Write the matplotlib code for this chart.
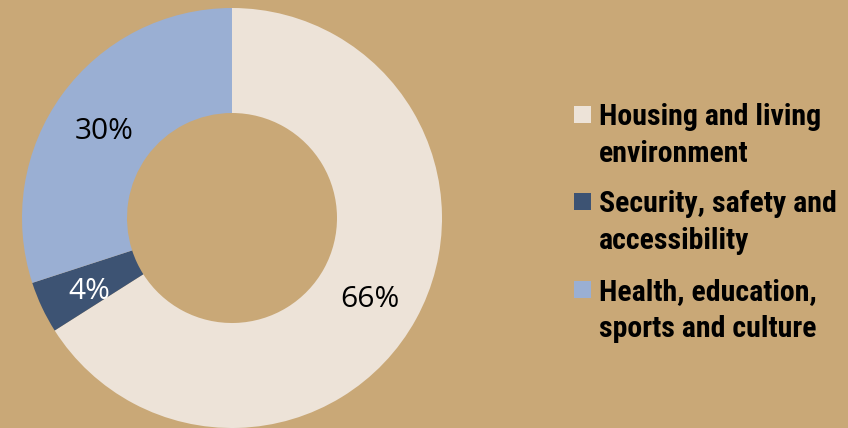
import matplotlib
matplotlib.use("Agg")
import matplotlib.pyplot as plt
from matplotlib.patches import Rectangle
from matplotlib.transforms import offset_copy

categories = ["Housing and living\nenvironment",
              "Security, safety and\naccessibility",
              "Health, education,\nsports and culture"]
values = [66, 4, 30]
colors = ["#EDE3D8", "#3D5373", "#9AAFD3"]
label_colors = ["black", "white", "black"]
bg = "#C9A877"

W, H = 848, 428
fig = plt.figure(figsize=(W / 100, H / 100), dpi=100, facecolor=bg)

ax = fig.add_axes([22 / W, 0 / H, 420 / W, 420 / H])
ax.set_facecolor(bg)
wedges, texts, autotexts = ax.pie(
    values, colors=colors, startangle=90, counterclock=False,
    autopct=lambda p: f"{p:.0f}%", pctdistance=0.75,
    wedgeprops=dict(width=0.5, linewidth=0),
    textprops=dict(fontsize=21.5, family=["Open Sans", "DejaVu Sans"]))
for t, c in zip(autotexts, label_colors):
    t.set_color(c)
    t.set_transform(offset_copy(ax.transData, fig=fig, x=0, y=-6, units="dots"))
ax.set_xlim(-1, 1)
ax.set_ylim(-1, 1)
ax.set_aspect("equal")
ax.axis("off")

def fx(x):
    return x / W

def fy(y):
    return 1 - y / H

first_baselines = [125, 212, 300]
line_gap = 37
sq = 17
for lab, col, b in zip(categories, colors, first_baselines):
    fig.add_artist(Rectangle((fx(574), fy(b - 2)), sq / W, sq / H,
                             transform=fig.transFigure, facecolor=col,
                             edgecolor="none"))
    for i, line in enumerate(lab.split("\n")):
        fig.text(fx(599), fy(b + i * line_gap), line, fontsize=21.5,
                 fontweight="bold",
                 family=["Roboto Condensed", "Archivo Narrow", "DejaVu Sans"],
                 va="baseline", ha="left", color="black")

fig.savefig("out.png", dpi=100, facecolor=bg)
